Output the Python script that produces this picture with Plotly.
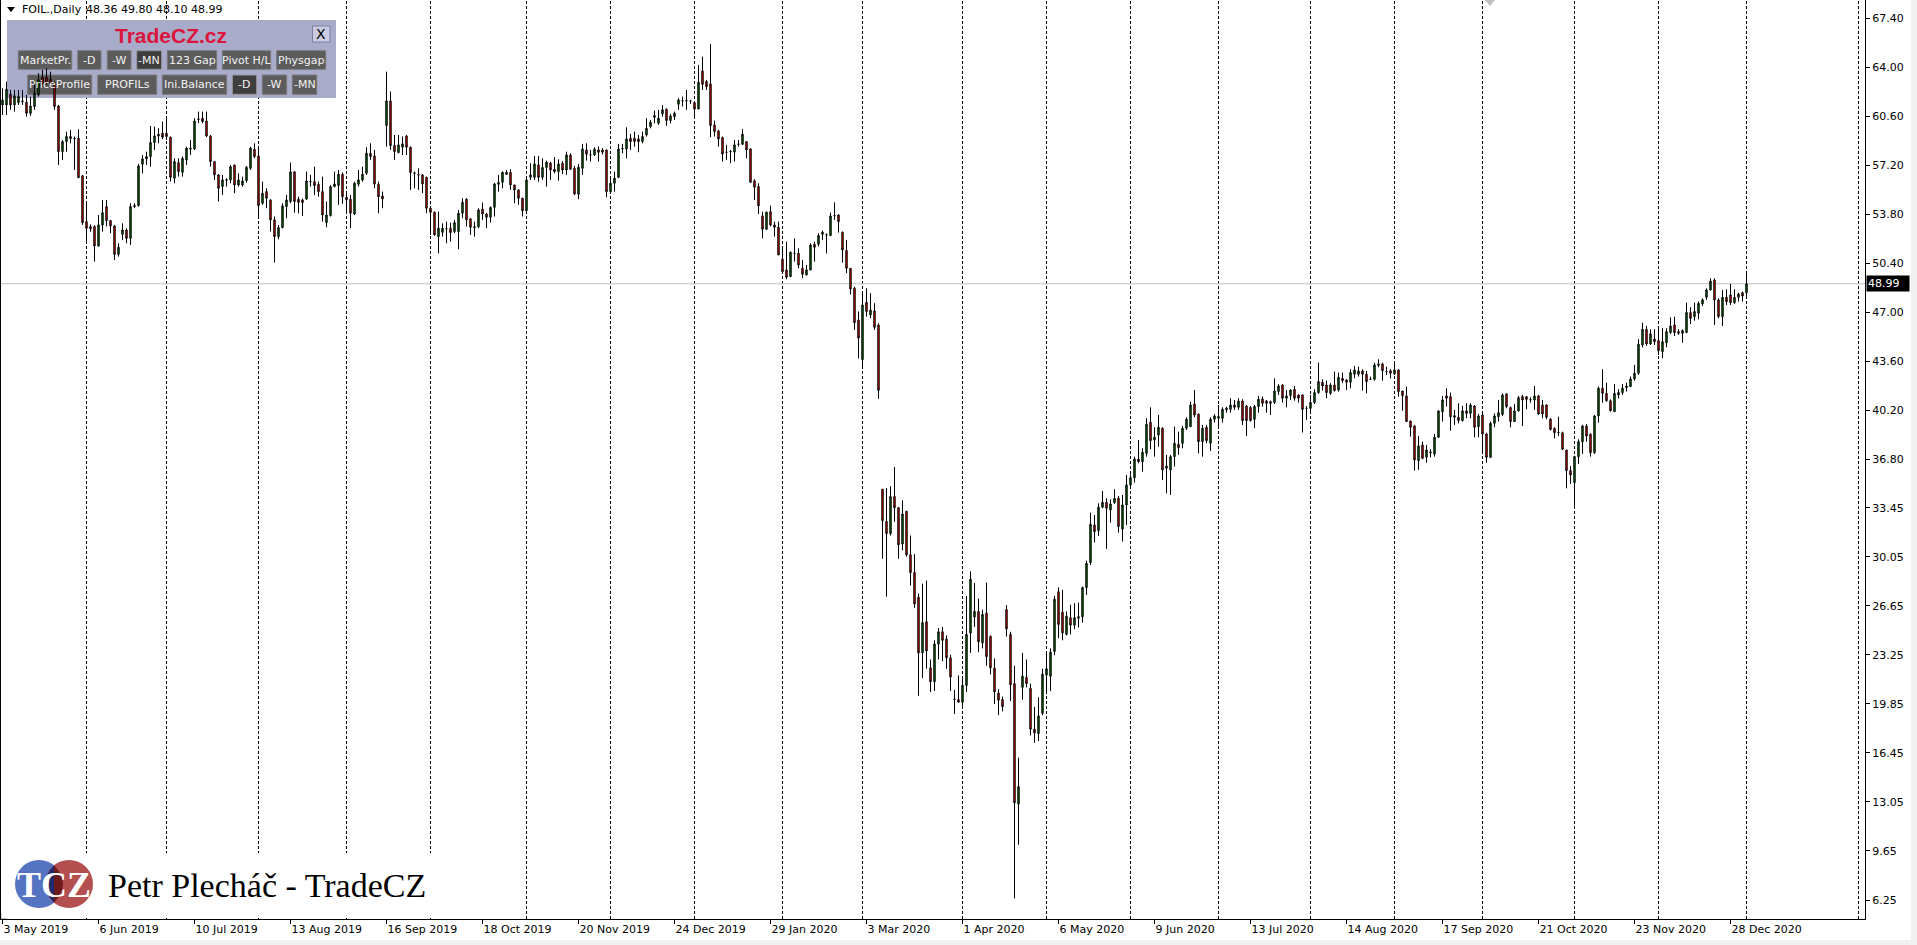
import plotly.graph_objects as go

# ---------------- data (FOIL., Daily) ----------------
opens = [
    61.39, 61.39, 62.13, 61.39, 61.55, 61.62, 61.58, 60.81, 61.28, 62.09,
    63.31, 63.31, 63.20, 62.94, 61.32, 58.15, 58.85, 59.20, 59.08, 59.08,
    56.47, 53.30, 52.95, 52.97, 51.61, 53.07, 54.34, 53.37, 53.00, 51.03,
    52.42, 52.72, 52.14, 54.34, 54.41, 57.28, 57.65, 57.81, 58.78, 59.24,
    59.43, 59.43, 59.15, 56.31, 57.39, 56.72, 57.58, 58.32, 58.34, 60.38,
    60.47, 60.28, 59.24, 57.46, 56.54, 55.73, 56.20, 56.19, 57.23, 55.84,
    55.84, 56.14, 57.00, 58.32, 57.85, 54.57, 55.38, 54.80, 53.42, 52.26,
    52.88, 54.34, 54.69, 56.75, 54.85, 54.80, 54.87, 56.08, 56.07, 55.89,
    55.38, 53.23, 53.72, 55.73, 55.80, 56.58, 54.99, 54.85, 53.83, 55.89,
    56.19, 56.65, 58.04, 57.85, 55.89, 55.08, 59.96, 61.67, 58.59, 58.09,
    58.46, 59.24, 58.46, 56.68, 56.56, 56.54, 56.37, 54.23, 53.95, 52.26,
    52.56, 52.80, 52.84, 52.61, 52.61, 53.88, 54.85, 53.49, 52.88, 52.95,
    54.16, 53.83, 53.60, 54.29, 55.89, 56.03, 56.58, 56.72, 55.84, 55.50,
    54.92, 54.06, 56.37, 56.37, 57.23, 56.37, 57.05, 57.35, 56.93, 56.77,
    57.35, 56.88, 57.92, 57.00, 55.20, 57.00, 58.27, 57.93, 57.92, 58.27,
    58.27, 58.27, 55.38, 55.96, 56.37, 58.34, 58.34, 59.08, 59.08, 59.03,
    58.85, 59.31, 59.89, 60.65, 60.12, 60.77, 61.09, 60.31, 60.58, 61.44,
    61.67, 61.67, 61.67, 61.55, 61.11, 63.75, 63.01, 62.85, 60.00, 59.59,
    59.13, 58.11, 58.15, 58.11, 58.66, 58.66, 58.85, 58.34, 56.12, 55.73,
    53.69, 52.77, 53.99, 53.07, 52.91, 50.69, 49.95, 49.49, 51.10, 51.10,
    50.06, 49.60, 49.95, 51.73, 51.73, 52.42, 52.38, 52.33, 53.72, 53.76,
    52.56, 51.29, 50.06, 48.68, 46.48, 43.73, 47.70, 46.83, 47.10, 46.13,
    34.74, 32.51, 31.66, 34.23, 33.46, 30.94, 33.20, 30.19, 28.96, 27.24,
    23.39, 25.55, 22.36, 21.39, 24.00, 24.85, 24.34, 23.05, 20.19, 20.15,
    19.97, 21.13, 24.77, 25.88, 26.26, 24.08, 26.14, 24.54, 22.33, 20.61,
    20.15, 26.39, 24.67, 21.25, 12.91, 21.00, 21.69, 20.92, 18.10, 17.79,
    19.20, 21.85, 21.77, 23.49, 27.63, 26.21, 24.67, 25.83, 25.31, 25.79,
    25.90, 27.92, 29.65, 32.26, 31.87, 33.49, 33.83, 33.30, 33.81, 34.11,
    31.98, 33.65, 35.04, 35.54, 36.84, 36.65, 37.23, 39.38, 38.16, 38.50,
    38.97, 36.19, 36.08, 37.00, 37.85, 37.92, 38.97, 39.08, 40.65, 39.94,
    38.04, 39.04, 37.93, 39.59, 39.66, 39.66, 40.24, 40.28, 40.58, 40.42,
    40.86, 40.51, 40.40, 39.59, 40.47, 41.00, 40.86, 40.81, 40.75, 41.51,
    41.97, 41.05, 41.23, 41.67, 41.28, 41.28, 40.35, 40.35, 40.75, 41.44,
    42.16, 41.97, 41.39, 41.97, 41.62, 42.43, 42.32, 42.16, 42.71, 42.71,
    42.94, 42.71, 42.36, 42.36, 43.43, 43.43, 42.90, 42.96, 42.73, 43.01,
    41.55, 41.21, 39.47, 39.13, 36.72, 37.81, 36.95, 37.27, 37.18, 38.34,
    40.12, 41.21, 41.16, 39.73, 39.73, 39.50, 40.17, 40.00, 40.51, 39.08,
    39.89, 38.57, 36.95, 39.31, 39.77, 39.93, 41.35, 40.40, 39.43, 40.17,
    41.16, 41.16, 40.95, 40.93, 41.21, 40.58, 40.58, 39.61, 38.96, 38.66,
    38.66, 37.46, 36.03, 35.20, 37.00, 38.04, 39.12, 38.55, 37.28, 39.82,
    41.74, 41.39, 40.88, 40.12, 41.28, 41.44, 41.79, 41.86, 42.39, 42.78,
    44.74, 45.83, 44.81, 45.16, 45.05, 44.28, 44.90, 45.60, 46.13, 45.67,
    45.55, 45.60, 46.99, 46.71, 46.94, 47.59, 48.05, 48.56, 49.25, 47.87,
    46.71, 48.05, 48.21, 47.68, 48.05, 48.37, 48.36,
]
highs = [
    62.55, 63.01, 62.43, 62.43, 62.43, 62.43, 62.09, 61.97, 63.13, 63.59,
    63.82, 63.93, 63.70, 63.01, 61.39, 58.96, 59.54, 59.66, 59.20, 59.70,
    56.54, 54.57, 53.10, 53.05, 53.76, 54.80, 54.80, 53.42, 53.07, 51.80,
    53.18, 52.84, 54.57, 54.57, 57.30, 57.92, 58.15, 59.93, 59.89, 59.77,
    60.24, 60.40, 59.20, 57.69, 57.69, 57.81, 58.50, 58.96, 60.47, 60.93,
    60.93, 60.93, 59.30, 57.50, 56.60, 56.54, 56.31, 57.23, 57.23, 56.65,
    56.42, 57.16, 58.50, 58.73, 58.39, 56.07, 55.61, 54.85, 53.65, 53.07,
    54.57, 55.15, 57.39, 56.77, 55.03, 54.90, 56.77, 56.54, 57.11, 56.07,
    56.42, 54.69, 55.84, 56.77, 56.88, 56.70, 55.27, 55.15, 56.07, 56.88,
    57.11, 58.46, 58.73, 58.27, 56.07, 55.38, 63.70, 62.32, 59.31, 59.31,
    59.20, 59.31, 58.50, 56.77, 57.00, 56.60, 56.42, 54.30, 54.00, 53.99,
    53.18, 53.30, 53.23, 53.42, 54.11, 54.92, 54.92, 53.55, 53.30, 54.23,
    54.62, 53.90, 54.35, 56.00, 56.54, 56.77, 56.88, 56.93, 55.86, 55.52,
    54.95, 56.24, 57.35, 57.85, 57.85, 57.69, 57.53, 57.46, 57.76, 57.62,
    57.50, 58.15, 58.04, 57.16, 57.30, 58.69, 58.73, 58.27, 58.46, 58.50,
    58.40, 58.30, 56.31, 56.77, 58.69, 58.69, 59.84, 59.38, 59.54, 59.31,
    59.54, 60.47, 60.35, 61.00, 61.05, 61.39, 61.16, 60.77, 60.93, 61.86,
    61.97, 62.43, 61.74, 61.62, 64.17, 64.74, 63.13, 65.62, 60.31, 59.66,
    59.20, 58.62, 58.27, 58.96, 58.96, 59.70, 58.87, 58.40, 56.24, 55.96,
    53.99, 53.99, 54.41, 53.30, 53.30, 51.57, 51.91, 51.22, 52.14, 51.45,
    50.64, 50.29, 51.80, 51.91, 52.49, 52.68, 52.49, 53.92, 54.64, 53.83,
    52.61, 52.03, 50.08, 48.79, 47.06, 48.44, 48.68, 48.33, 47.64, 46.25,
    34.74, 34.82, 34.95, 36.28, 33.50, 33.97, 33.25, 31.53, 30.24, 27.50,
    28.19, 28.40, 22.93, 24.26, 25.11, 25.19, 24.60, 23.26, 20.82, 21.82,
    21.69, 27.34, 29.04, 28.24, 27.16, 26.39, 28.27, 24.60, 23.00, 20.87,
    20.36, 26.70, 24.85, 22.49, 16.12, 23.39, 22.93, 21.26, 19.64, 20.31,
    22.29, 23.39, 23.70, 27.34, 27.93, 27.75, 26.26, 26.73, 26.83, 26.87,
    27.99, 29.79, 33.12, 32.95, 33.76, 34.62, 34.11, 34.04, 34.74, 34.27,
    34.34, 35.73, 35.78, 37.00, 38.16, 37.58, 39.66, 40.42, 39.04, 39.89,
    39.04, 37.12, 37.12, 39.08, 38.73, 39.13, 39.73, 40.81, 41.62, 40.00,
    39.20, 39.20, 39.73, 39.94, 40.58, 40.42, 40.47, 41.05, 40.93, 41.05,
    40.98, 40.58, 40.51, 40.58, 41.21, 41.16, 40.93, 40.88, 42.43, 42.02,
    42.04, 41.62, 41.67, 41.90, 41.30, 41.30, 40.51, 41.28, 41.67, 43.52,
    42.36, 42.27, 42.09, 42.90, 42.83, 42.83, 42.36, 43.06, 43.29, 43.24,
    43.06, 42.94, 42.55, 43.52, 43.75, 43.52, 43.24, 43.06, 43.52, 43.06,
    41.57, 41.86, 39.50, 39.20, 38.43, 38.04, 37.81, 37.51, 38.57, 40.19,
    41.21, 41.74, 41.44, 40.24, 40.70, 40.51, 40.70, 40.70, 40.58, 39.96,
    39.96, 38.66, 39.43, 40.00, 40.93, 41.39, 41.39, 40.47, 40.65, 41.21,
    41.28, 41.21, 41.12, 41.90, 41.28, 40.93, 40.63, 39.66, 39.03, 39.77,
    38.73, 37.46, 36.35, 37.05, 38.20, 39.20, 39.26, 38.62, 39.89, 41.86,
    43.06, 42.13, 40.97, 42.04, 41.67, 42.04, 42.13, 42.55, 43.36, 45.14,
    46.29, 46.06, 45.83, 45.83, 45.90, 45.90, 45.90, 46.66, 46.71, 45.83,
    45.83, 47.68, 47.36, 47.68, 47.75, 47.98, 48.67, 49.37, 49.37, 47.98,
    48.56, 48.60, 48.97, 48.60, 48.37, 48.44, 49.80,
]
lows = [
    60.70, 60.70, 61.05, 60.93, 61.39, 61.39, 60.58, 60.63, 61.05, 61.97,
    62.66, 62.78, 62.70, 61.05, 57.23, 57.58, 58.15, 58.73, 56.88, 56.31,
    53.07, 51.91, 52.60, 50.53, 51.57, 52.61, 52.96, 52.49, 50.64, 50.87,
    52.03, 51.80, 51.68, 54.23, 54.34, 56.65, 57.23, 57.11, 58.27, 58.73,
    59.01, 58.96, 56.07, 55.96, 56.42, 56.42, 57.23, 57.92, 58.27, 60.12,
    60.12, 59.15, 57.11, 56.19, 54.69, 55.15, 55.73, 55.96, 55.27, 55.73,
    55.73, 56.00, 56.88, 57.69, 53.65, 54.46, 54.23, 52.61, 50.46, 52.07,
    52.84, 53.53, 54.57, 53.92, 53.88, 53.69, 54.80, 55.73, 55.15, 55.03,
    53.30, 52.91, 53.65, 55.68, 54.46, 54.53, 53.88, 52.84, 53.76, 55.73,
    56.07, 56.54, 57.58, 55.61, 53.88, 54.23, 58.50, 58.27, 57.58, 58.04,
    57.92, 57.92, 55.50, 55.61, 55.50, 55.27, 53.88, 52.38, 52.31, 51.10,
    52.26, 51.80, 51.91, 52.49, 51.38, 53.53, 52.96, 52.38, 52.26, 52.84,
    53.42, 52.84, 53.23, 53.65, 55.38, 55.61, 56.54, 55.50, 54.57, 54.46,
    53.65, 54.02, 56.19, 56.19, 56.07, 56.19, 55.73, 56.19, 56.65, 56.14,
    56.60, 56.54, 56.88, 55.15, 54.85, 56.54, 57.53, 57.46, 57.85, 57.46,
    57.95, 54.99, 55.27, 55.38, 56.31, 58.04, 57.69, 58.27, 58.50, 58.11,
    58.73, 59.20, 59.77, 60.12, 60.00, 60.58, 59.94, 60.12, 60.35, 61.05,
    61.28, 61.05, 61.46, 60.58, 61.11, 62.43, 62.43, 59.15, 59.20, 58.50,
    57.46, 57.58, 57.35, 57.46, 58.50, 58.62, 57.69, 56.00, 54.80, 53.83,
    52.14, 52.72, 52.96, 52.26, 50.98, 49.80, 49.30, 49.44, 50.53, 50.06,
    49.37, 49.58, 49.93, 50.53, 51.57, 52.03, 51.10, 52.31, 53.42, 52.54,
    50.46, 49.72, 48.26, 45.79, 43.81, 43.22, 46.71, 46.60, 45.79, 41.01,
    29.91, 27.29, 31.53, 32.48, 29.91, 30.50, 30.07, 28.06, 26.52, 20.41,
    21.64, 22.29, 20.67, 20.74, 22.93, 22.80, 22.29, 20.74, 19.15, 19.93,
    19.71, 20.67, 23.39, 25.19, 23.44, 23.70, 22.49, 21.90, 19.84, 19.07,
    19.33, 24.52, 20.05, 6.36, 10.08, 20.15, 21.00, 17.66, 17.15, 17.27,
    19.07, 20.67, 20.74, 23.23, 24.41, 24.26, 24.60, 24.67, 25.03, 25.16,
    25.49, 27.41, 29.49, 31.04, 31.50, 33.42, 30.60, 32.42, 33.72, 31.73,
    31.11, 32.26, 34.80, 35.20, 36.54, 35.96, 37.00, 37.51, 37.00, 37.69,
    35.38, 34.46, 34.34, 36.31, 37.12, 37.58, 38.85, 39.08, 39.73, 37.23,
    37.00, 37.93, 37.39, 39.36, 38.97, 39.36, 40.05, 40.05, 40.24, 40.24,
    39.20, 38.43, 39.43, 38.97, 40.05, 40.47, 40.05, 39.89, 40.65, 41.28,
    40.75, 40.42, 40.93, 40.88, 40.75, 38.67, 39.54, 40.05, 40.65, 41.35,
    41.58, 41.05, 41.28, 41.51, 41.51, 42.09, 41.62, 41.74, 42.43, 42.55,
    41.58, 41.39, 42.32, 42.27, 43.20, 42.27, 42.66, 42.43, 42.66, 41.16,
    40.19, 39.40, 38.39, 36.03, 36.08, 36.81, 36.58, 36.95, 37.00, 38.30,
    39.43, 40.47, 38.80, 39.20, 39.31, 39.43, 39.66, 39.66, 38.34, 38.34,
    37.35, 36.58, 36.90, 39.03, 39.43, 39.82, 40.35, 39.03, 39.40, 40.12,
    39.12, 40.28, 40.74, 40.24, 39.89, 39.66, 39.59, 38.80, 38.27, 38.43,
    37.46, 34.80, 35.10, 33.58, 36.49, 37.19, 38.04, 37.00, 37.19, 39.36,
    40.74, 40.81, 40.12, 40.12, 41.05, 41.28, 41.51, 41.81, 42.27, 42.66,
    44.58, 44.68, 44.74, 44.74, 44.05, 43.82, 44.58, 45.51, 45.37, 45.44,
    44.90, 45.60, 46.20, 46.43, 46.52, 47.45, 47.87, 48.51, 46.13, 46.59,
    46.06, 47.52, 47.52, 47.59, 47.75, 47.75, 48.10,
]
closes = [
    61.74, 62.48, 61.39, 62.02, 61.97, 61.66, 60.81, 61.32, 62.20, 63.13,
    62.85, 62.89, 62.88, 61.28, 58.15, 58.85, 59.20, 59.06, 59.05, 56.35,
    53.23, 52.84, 52.80, 51.61, 53.07, 53.92, 53.37, 53.00, 51.03, 51.52,
    52.72, 52.14, 54.34, 54.41, 57.16, 57.65, 57.81, 58.78, 59.24, 59.36,
    59.15, 59.20, 56.37, 57.46, 56.77, 57.69, 58.39, 58.39, 60.28, 60.42,
    60.24, 59.24, 57.46, 56.54, 55.61, 56.19, 56.17, 57.11, 55.84, 56.19,
    56.12, 57.07, 58.39, 57.81, 54.41, 55.27, 54.92, 53.42, 52.26, 52.88,
    54.39, 54.80, 56.75, 54.69, 54.64, 54.62, 56.12, 56.07, 55.80, 55.38,
    53.76, 53.76, 55.73, 55.91, 56.58, 55.03, 54.80, 53.88, 55.96, 56.19,
    56.58, 58.04, 57.81, 55.91, 55.03, 54.87, 61.67, 58.57, 58.15, 58.62,
    58.69, 58.46, 56.70, 56.65, 56.53, 55.91, 54.23, 53.95, 52.38, 52.84,
    52.84, 52.79, 52.54, 53.23, 53.88, 54.64, 53.42, 52.91, 52.95, 54.11,
    53.83, 53.60, 54.29, 55.91, 56.00, 56.72, 56.72, 55.84, 55.50, 54.92,
    54.06, 56.19, 56.54, 57.30, 56.37, 57.05, 57.42, 56.88, 56.77, 57.30,
    56.88, 57.92, 56.93, 55.22, 57.07, 58.34, 57.97, 57.92, 58.32, 58.11,
    58.11, 55.38, 55.96, 56.31, 58.34, 58.36, 59.03, 58.85, 58.85, 58.85,
    59.20, 59.77, 60.19, 60.54, 60.47, 61.05, 60.31, 60.63, 60.81, 61.74,
    61.67, 61.69, 61.67, 61.11, 62.96, 62.82, 62.66, 59.96, 59.54, 59.03,
    57.99, 58.10, 58.16, 58.62, 58.67, 59.36, 58.27, 56.03, 55.68, 54.39,
    52.77, 53.95, 53.07, 52.91, 50.99, 49.83, 49.44, 51.17, 51.10, 50.29,
    49.65, 49.95, 51.68, 51.52, 52.33, 52.56, 52.37, 53.69, 53.71, 53.30,
    51.33, 50.06, 48.63, 46.29, 45.22, 47.52, 47.06, 47.17, 45.97, 41.60,
    32.56, 31.66, 34.23, 33.46, 30.89, 33.02, 30.19, 28.96, 26.78, 23.39,
    25.49, 23.52, 21.39, 24.00, 24.85, 24.26, 23.05, 21.72, 20.17, 19.97,
    21.13, 24.67, 28.50, 26.26, 24.16, 26.06, 23.13, 22.36, 20.69, 20.10,
    19.66, 25.06, 21.18, 12.99, 14.11, 21.77, 21.26, 18.10, 17.84, 19.02,
    21.90, 22.29, 23.44, 27.11, 25.36, 24.77, 25.93, 25.31, 25.83, 25.90,
    27.92, 29.60, 32.31, 31.80, 33.49, 33.83, 33.42, 33.72, 34.11, 32.15,
    33.65, 35.04, 35.54, 36.84, 36.65, 37.30, 39.24, 38.11, 38.34, 39.04,
    36.08, 36.35, 37.00, 37.92, 37.62, 38.97, 39.59, 40.58, 39.89, 38.04,
    38.97, 38.11, 39.59, 39.82, 39.78, 40.28, 40.35, 40.58, 40.42, 40.86,
    39.50, 39.50, 39.50, 40.47, 40.98, 40.70, 40.70, 40.70, 41.55, 41.90,
    41.05, 41.21, 41.62, 41.05, 41.05, 40.28, 40.35, 40.75, 41.44, 42.20,
    41.90, 41.44, 41.97, 41.58, 42.50, 42.27, 42.16, 42.83, 43.01, 42.94,
    42.71, 42.20, 42.37, 43.36, 43.33, 42.96, 42.89, 42.78, 43.01, 41.51,
    41.23, 39.43, 39.03, 36.77, 37.74, 36.88, 37.46, 37.32, 38.34, 40.17,
    40.93, 41.05, 39.77, 39.84, 39.50, 40.17, 40.00, 40.58, 39.03, 39.82,
    38.57, 36.95, 39.31, 39.82, 40.05, 41.28, 40.47, 39.43, 40.17, 41.09,
    40.93, 40.97, 40.93, 41.21, 39.96, 39.96, 39.73, 38.89, 38.66, 38.67,
    37.51, 36.03, 35.73, 37.00, 38.04, 39.12, 38.43, 37.28, 39.82, 41.74,
    41.39, 40.88, 40.19, 41.39, 41.44, 41.74, 41.90, 42.39, 42.78, 44.79,
    45.83, 44.81, 45.51, 44.97, 44.35, 44.97, 45.67, 46.06, 45.60, 45.55,
    45.74, 46.99, 46.59, 47.06, 47.63, 47.87, 48.56, 49.18, 47.87, 46.71,
    48.05, 47.75, 47.68, 48.05, 48.28, 48.14, 48.99,
]
assert len(opens) == len(highs) == len(lows) == len(closes) == 437

# x tick labels (one every 24 bars, starting at bar 0)
date_labels = ["3 May 2019", "6 Jun 2019", "10 Jul 2019", "13 Aug 2019", "16 Sep 2019",
               "18 Oct 2019", "20 Nov 2019", "24 Dec 2019", "29 Jan 2020", "3 Mar 2020",
               "1 Apr 2020", "6 May 2020", "9 Jun 2020", "13 Jul 2020", "14 Aug 2020",
               "17 Sep 2020", "21 Oct 2020", "23 Nov 2020", "28 Dec 2020"]
label_bars = [0, 24, 48, 72, 96, 120, 144, 168, 192, 216, 240, 264, 288, 312, 336, 360, 384, 408, 432]
# first bar of every month (period separators)
month_start_bars = [21, 41, 64, 86, 107, 131, 152, 173, 195, 215, 240, 261, 282, 304,
                    327, 348, 370, 393, 414, 436, 464]
price_ticks = [67.40, 64.00, 60.60, 57.20, 53.80, 50.40, 47.00, 43.60, 40.20, 36.80,
               33.45, 30.05, 26.65, 23.25, 19.85, 16.45, 13.05, 9.65, 6.25]
symbol = "FOIL.,Daily"
last_bar = (48.36, 49.80, 48.10, 48.99)
bid = 48.99

# ---------------- geometry ----------------
W, H = 1917, 945
ML, MR, MT, MB = 1, 52, 0, 26
PW = W - ML - MR
PH = H - MT - MB
X0 = -1.5 / 4.0
XR = [X0, X0 + PW / 4.0]
YR = [4.932, 68.669]


def px(X):
    return (X - ML) / PW


def py(Y):
    return (PH + MT - Y) / PH


FONT = "DejaVu Sans"

fig = go.Figure()
fig.add_trace(go.Candlestick(
    x=list(range(len(opens))), open=opens, high=highs, low=lows, close=closes,
    increasing=dict(line=dict(color="black", width=1), fillcolor="#008000"),
    decreasing=dict(line=dict(color="black", width=1), fillcolor="#FF0000"),
    whiskerwidth=0, hoverinfo="none", showlegend=False,
))

shapes = []
annotations = []

# period separators
for k in month_start_bars:
    shapes.append(dict(type="line", xref="x", yref="paper", x0=k, x1=k, y0=0, y1=1,
                       line=dict(color="black", width=1, dash="3px,2px"), layer="below"))
# bid line
shapes.append(dict(type="line", xref="paper", yref="y", x0=0, x1=1, y0=bid, y1=bid,
                   line=dict(color="#C0C0C0", width=1), layer="below"))

# window frame strips
shapes.append(dict(type="rect", xref="paper", yref="paper", x0=px(1911), x1=px(1918),
                   y0=py(946), y1=py(-1), fillcolor="#F0F0F0", line=dict(width=0), layer="below"))
shapes.append(dict(type="rect", xref="paper", yref="paper", x0=px(-1), x1=px(1918),
                   y0=py(946), y1=py(940), fillcolor="#F0F0F0", line=dict(width=0), layer="below"))

# small grey markers
shapes.append(dict(type="path", xref="paper", yref="paper",
                   path="M {} {} L {} {} L {} {} Z".format(px(1485), py(0), px(1495), py(0), px(1490), py(6)),
                   fillcolor="#C0C0C0", line=dict(width=0), layer="above"))
shapes.append(dict(type="path", xref="paper", yref="paper",
                   path="M {} {} L {} {} L {} {} Z".format(px(1), py(919), px(1), py(912), px(7), py(919)),
                   fillcolor="#C0C0C0", line=dict(width=0), layer="above"))

# top-left title
shapes.append(dict(type="path", xref="paper", yref="paper",
                   path="M {} {} L {} {} L {} {} Z".format(px(7), py(7), px(15), py(7), px(11), py(12)),
                   fillcolor="black", line=dict(width=0), layer="above"))
annotations.append(dict(xref="paper", yref="paper", x=px(20), y=py(10), xanchor="left", yanchor="middle",
                        text=symbol, showarrow=False, font=dict(family=FONT, size=11, color="black")))
annotations.append(dict(xref="paper", yref="paper", x=px(84), y=py(10), xanchor="left", yanchor="middle",
                        text=" ".join("{:.2f}".format(v) for v in last_bar), showarrow=False,
                        font=dict(family=FONT, size=11, color="black")))

# ---------------- TradeCZ panel ----------------
shapes.append(dict(type="rect", xref="paper", yref="paper", x0=px(7), x1=px(336), y0=py(98), y1=py(20),
                   fillcolor="#A9ABCB", line=dict(width=0), layer="below"))
annotations.append(dict(xref="paper", yref="paper", x=px(171), y=py(35), xanchor="center", yanchor="middle",
                        text="<b>TradeCZ.cz</b>", showarrow=False,
                        font=dict(family="Liberation Sans", size=21, color="#DC143C")))
shapes.append(dict(type="rect", xref="paper", yref="paper", x0=px(312.5), x1=px(330), y0=py(42), y1=py(26),
                   fillcolor="#C9CBE2", line=dict(color="#7C7E9E", width=1), layer="below"))
annotations.append(dict(xref="paper", yref="paper", x=px(321.3), y=py(34), xanchor="center", yanchor="middle",
                        text="X", showarrow=False, font=dict(family=FONT, size=14, color="black")))

buttons = [
    ("MarketPr.", 18.3, 71.7, 50.7, 69.3, False), ("-D", 77.7, 101, 50.7, 69.3, False),
    ("-W", 107.3, 131, 50.7, 69.3, False), ("-MN", 136.7, 161.7, 50.7, 69.3, True),
    ("123 Gap", 167.3, 216.7, 50.7, 69.3, False), ("Pivot H/L", 222.3, 270.7, 50.7, 69.3, False),
    ("Physgap", 276.7, 325.7, 50.7, 69.3, False),
    ("PriceProfile", 27.7, 91.7, 75, 94.3, False), ("PROFILs", 97.7, 156.7, 75, 94.3, False),
    ("Ini.Balance", 162.3, 226.7, 75, 94.3, False), ("-D", 232.3, 256.7, 75, 94.3, True),
    ("-W", 262.3, 286.7, 75, 94.3, False), ("-MN", 292.3, 316.7, 75, 94.3, False),
]
for label, bx0, bx1, by0, by1, pressed in buttons:
    shapes.append(dict(type="rect", xref="paper", yref="paper", x0=px(bx0), x1=px(bx1), y0=py(by1), y1=py(by0),
                       fillcolor="#3E3E3E" if pressed else "#5C5C5C",
                       line=dict(color="#9A9A9A" if pressed else "#7A7A7A", width=1), layer="below"))
    annotations.append(dict(xref="paper", yref="paper", x=px((bx0 + bx1) / 2), y=py((by0 + by1) / 2),
                            xanchor="center", yanchor="middle", text=label, showarrow=False,
                            font=dict(family=FONT, size=11, color="#F2F2F2")))

# bid price label on the price scale
annotations.append(dict(xref="paper", yref="y", x=px(1866), y=bid, xanchor="left", yanchor="middle",
                        text="{:.2f}".format(bid), showarrow=False, bgcolor="black", borderpad=1,
                        width=40, align="left",
                        font=dict(family=FONT, size=11, color="white")))

# ---------------- logo ----------------
shapes.append(dict(type="rect", xref="paper", yref="paper", x0=px(1.5), x1=px(440), y0=py(918), y1=py(853),
                   fillcolor="white", line=dict(width=0), layer="above"))
shapes.append(dict(type="circle", xref="paper", yref="paper", x0=px(15), x1=px(63), y0=py(908), y1=py(860),
                   fillcolor="#5473C0", line=dict(width=0), layer="above"))
shapes.append(dict(type="circle", xref="paper", yref="paper", x0=px(45), x1=px(93), y0=py(908), y1=py(860),
                   fillcolor="#B34F4F", line=dict(width=0), layer="above"))
shapes.append(dict(type="path", xref="paper", yref="paper",
                   path="M {} {} Q {} {} {} {} Z".format(px(54), py(865.3), px(36), py(884), px(54), py(902.7)),
                   fillcolor="#1F2A6E", line=dict(width=0), layer="above"))
shapes.append(dict(type="path", xref="paper", yref="paper",
                   path="M {} {} Q {} {} {} {} Z".format(px(54), py(865.3), px(72), py(884), px(54), py(902.7)),
                   fillcolor="#6E1A1A", line=dict(width=0), layer="above"))
annotations.append(dict(xref="paper", yref="paper", x=px(54), y=py(885), xanchor="center", yanchor="middle",
                        text="<b>TCZ</b>", showarrow=False,
                        font=dict(family="Liberation Serif", size=36, color="white")))
annotations.append(dict(xref="paper", yref="paper", x=px(106), y=py(885), xanchor="left", yanchor="middle",
                        text="Petr Plecháč - TradeCZ", showarrow=False,
                        font=dict(family="Liberation Serif", size=34, color="black")))

fig.update_layout(
    width=W, height=H, margin=dict(l=ML, r=MR, t=MT, b=MB, pad=0),
    paper_bgcolor="white", plot_bgcolor="rgba(0,0,0,0)",
    showlegend=False, shapes=shapes, annotations=annotations,
    boxgap=0.5, dragmode=False, hovermode=False,
    xaxis=dict(range=XR, showgrid=False, zeroline=False, showline=True, linecolor="black", linewidth=1,
               ticks="outside", ticklen=4, tickcolor="black", tickwidth=1,
               tickmode="array", tickvals=label_bars, ticktext=date_labels,
               ticklabelposition="outside right",
               tickfont=dict(family=FONT, size=11, color="black"),
               rangeslider=dict(visible=False), fixedrange=True, automargin=False),
    yaxis=dict(range=YR, side="right", showgrid=False, zeroline=False, showline=True, mirror=True,
               linecolor="black", linewidth=1, ticks="outside", ticklen=4, tickcolor="black",
               tickmode="array", tickvals=price_ticks, ticktext=["{:.2f}".format(v) for v in price_ticks],
               tickfont=dict(family=FONT, size=11, color="black"), fixedrange=True, automargin=False),
)

fig.write_html("out.html", include_plotlyjs=True, config={"displayModeBar": False, "staticPlot": True},
               post_script="document.body.style.margin='0';document.body.style.overflow='hidden';")
